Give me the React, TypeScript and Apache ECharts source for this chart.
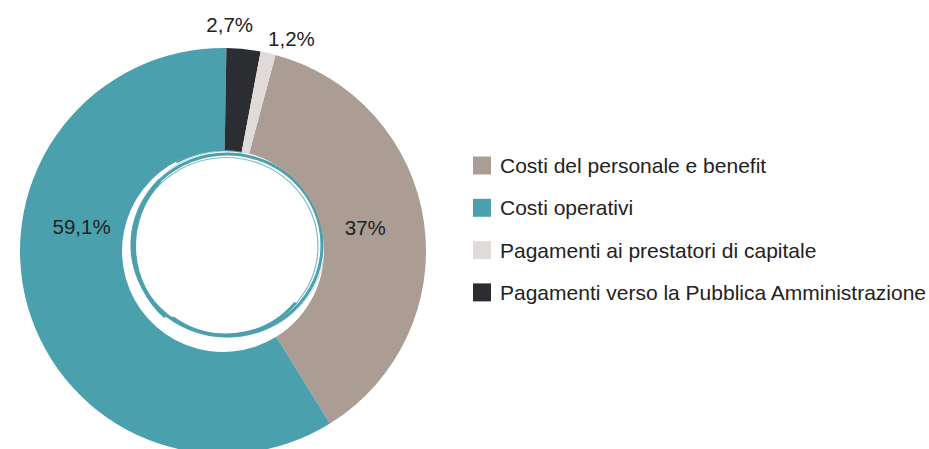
import React, { useEffect, useRef } from "react";
import * as echarts from "echarts";

const categories = [
  "Costi del personale e benefit",
  "Costi operativi",
  "Pagamenti verso la Pubblica Amministrazione",
  "Pagamenti ai prestatori di capitale",
];
const values = [37, 59.1, 2.7, 1.2];
const labelTexts = ["37%", "59,1%", "2,7%", "1,2%"];
const colors = ["#ab9c94", "#4ba0ae", "#2b2d30", "#e0dbd8"];
const legendOrder = [
  "Costi del personale e benefit",
  "Costi operativi",
  "Pagamenti ai prestatori di capitale",
  "Pagamenti verso la Pubblica Amministrazione",
];
const labelOffsets: [number, number][] = [
  [-11, -1],
  [8, -66],
  [-9, -72],
  [34, -61],
];

export default function App() {
  const ref = useRef<HTMLDivElement>(null);
  useEffect(() => {
    document.body.style.margin = "0";
    const chart = echarts.init(ref.current!, null, { renderer: "svg" });
    const teal = "#4ba0ae";
    chart.setOption({
      animation: false,
      backgroundColor: "#ffffff",
      legend: {
        orient: "vertical",
        left: 473,
        top: 155,
        padding: 0,
        icon: "rect",
        itemWidth: 18,
        itemHeight: 18,
        itemGap: 21.3,
        data: legendOrder,
        textStyle: {
          fontFamily: "Liberation Sans",
          fontSize: 21,
          lineHeight: 18,
          color: "#222222",
          padding: [0, 0, 0, 4],
        },
        selectedMode: false,
      },
      graphic: [
        {
          type: "ellipse",
          shape: { cx: 227, cy: 245, rx: 95, ry: 91 },
          style: { fill: "none", stroke: teal, lineWidth: 3 },
          silent: true,
        },
        {
          type: "ellipse",
          shape: { cx: 226, cy: 246, rx: 92, ry: 88.5 },
          style: { fill: "none", stroke: teal, lineWidth: 1.2, opacity: 0.7 },
          silent: true,
        },
        {
          type: "ellipse",
          shape: { cx: 228, cy: 244, rx: 97, ry: 93 },
          style: { fill: "none", stroke: teal, lineWidth: 0.8, opacity: 0.5 },
          silent: true,
        },
        {
          type: "arc",
          shape: { cx: 229, cy: 246, r: 95, startAngle: 2.3, endAngle: 3.9 },
          style: { fill: "none", stroke: teal, lineWidth: 4 },
          silent: true,
        },
        {
          type: "arc",
          shape: { cx: 226, cy: 244, r: 91, startAngle: 0.7, endAngle: 2.2 },
          style: { fill: "none", stroke: teal, lineWidth: 3 },
          silent: true,
        },
        {
          type: "arc",
          shape: { cx: 224, cy: 247, r: 97, startAngle: 4.2, endAngle: 4.9 },
          style: { fill: "none", stroke: teal, lineWidth: 2 },
          silent: true,
        },
      ],
      series: [
        {
          type: "pie",
          center: [223, 251],
          radius: [101, 203],
          startAngle: 75,
          clockwise: true,
          silent: true,
          label: {
            show: true,
            position: "inside",
            fontFamily: "Liberation Sans",
            fontSize: 20.5,
            color: "#222222",
            formatter: (p: any) => labelTexts[p.dataIndex],
          },
          labelLine: { show: false },
          labelLayout: (p: any) => ({
            dx: labelOffsets[p.dataIndex][0],
            dy: labelOffsets[p.dataIndex][1],
          }),
          itemStyle: { borderWidth: 0 },
          data: categories.map((name, i) => ({
            name,
            value: values[i],
            itemStyle: { color: colors[i] },
          })),
        },
      ],
    });
    return () => chart.dispose();
  }, []);
  return <div ref={ref} style={{ width: 929, height: 449 }} />;
}
